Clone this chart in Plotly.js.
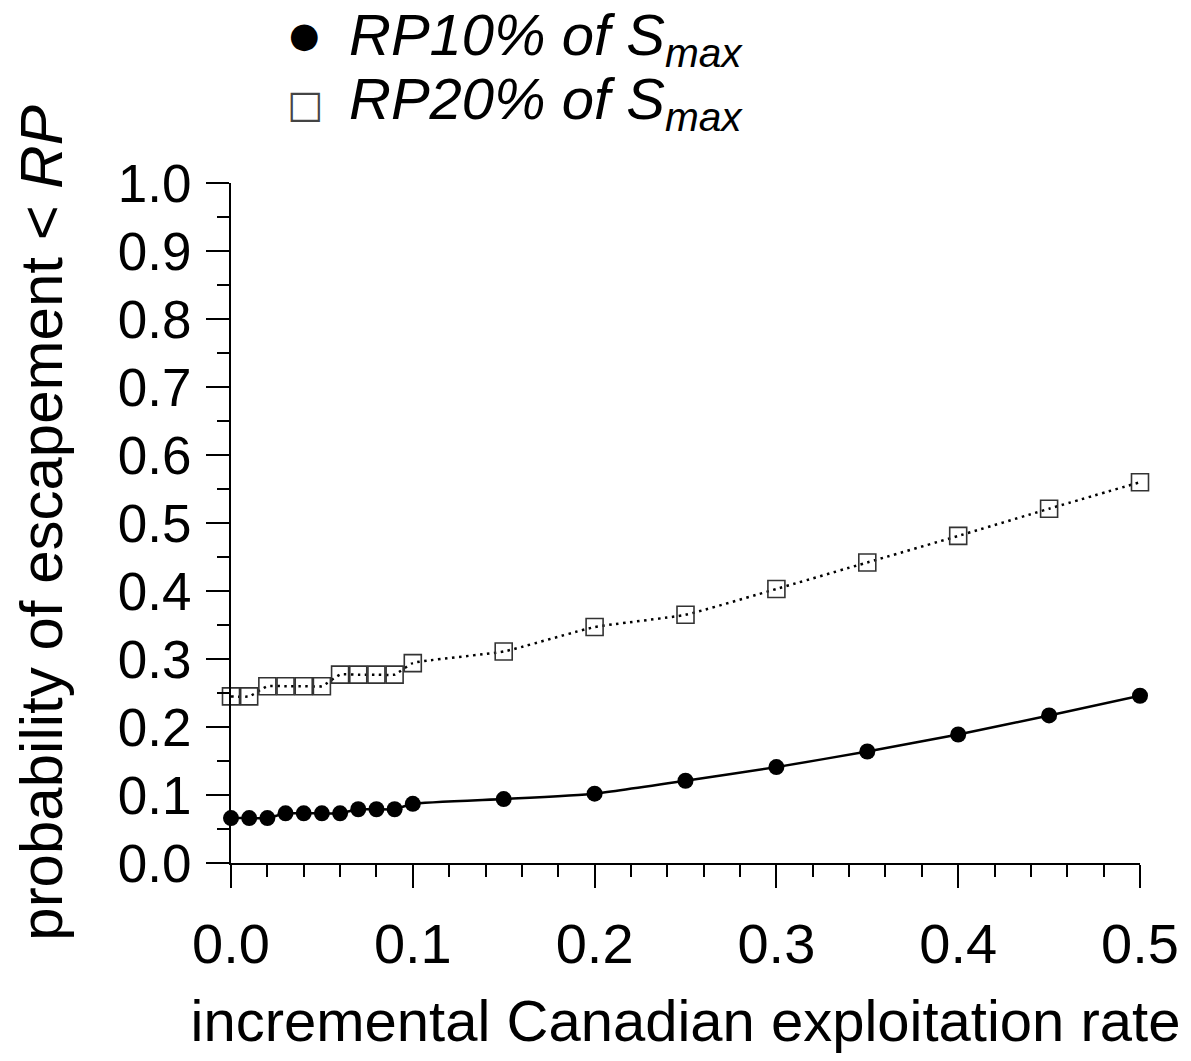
<!DOCTYPE html>
<html>
<head>
<meta charset="utf-8">
<script src="https://cdn.plot.ly/plotly-3.0.1.min.js"></script>
<style>
  html, body { margin: 0; padding: 0; background: #fff; }
  #chart { width: 1191px; height: 1061px; }
</style>
</head>
<body>
<div id="chart"></div>
<script>
// Data
const exploitationRate = [0.00, 0.01, 0.02, 0.03, 0.04, 0.05, 0.06, 0.07, 0.08, 0.09, 0.10,
                          0.15, 0.20, 0.25, 0.30, 0.35, 0.40, 0.45, 0.50];
const probRP10 = [0.066, 0.066, 0.066, 0.073, 0.073, 0.073, 0.073, 0.079, 0.079, 0.079, 0.087,
                  0.094, 0.102, 0.121, 0.141, 0.164, 0.189, 0.217, 0.246];
const probRP20 = [0.245, 0.245, 0.260, 0.260, 0.260, 0.260, 0.277, 0.277, 0.277, 0.277, 0.294,
                  0.311, 0.347, 0.365, 0.403, 0.442, 0.481, 0.521, 0.560];
const seriesNames = ['RP10% of S<sub>max</sub>', 'RP20% of S<sub>max</sub>'];
const legendSymbols = ['●', '□'];
const xTickVals = [0, 0.1, 0.2, 0.3, 0.4, 0.5];
const xTickText = ['0.0', '0.1', '0.2', '0.3', '0.4', '0.5'];
const yTickVals = [0, 0.1, 0.2, 0.3, 0.4, 0.5, 0.6, 0.7, 0.8, 0.9, 1.0];
const yTickText = ['0.0', '0.1', '0.2', '0.3', '0.4', '0.5', '0.6', '0.7', '0.8', '0.9', '1.0'];

const FONT = 'Liberation Sans, Arial, sans-serif';

const traces = [
  {
    x: exploitationRate, y: probRP10, type: 'scatter', mode: 'lines+markers', name: 'RP10% of Smax',
    line: { color: '#000', width: 2.5, shape: 'spline', smoothing: 0.4 },
    marker: { symbol: 'circle', size: 16, color: '#000' },
    showlegend: false, cliponaxis: false
  },
  {
    x: exploitationRate, y: probRP20, type: 'scatter', mode: 'lines+markers', name: 'RP20% of Smax',
    line: { color: '#000', width: 2.5, dash: '2.5px,4.5px', shape: 'spline', smoothing: 0.4 },
    marker: { symbol: 'square-open', size: 17, color: '#333', line: { width: 1.6, color: '#333' } },
    showlegend: false, cliponaxis: false
  }
];

// legend drawn as annotations (symbol + italic label), rows in paper coordinates
const legendRowsY = [1.212, 1.117];
const annotations = [];
seriesNames.forEach((name, i) => {
  annotations.push({
    xref: 'paper', yref: 'paper', x: 0.0814, y: legendRowsY[i] + (i === 0 ? 0.006 : -0.001),
    xanchor: 'center', yanchor: 'middle', showarrow: false,
    text: legendSymbols[i],
    font: { family: 'DejaVu Sans', size: i === 0 ? 35 : 38, color: i === 0 ? '#000' : '#444' }
  });
  annotations.push({
    xref: 'paper', yref: 'paper', x: 0.128, y: legendRowsY[i],
    xanchor: 'left', yanchor: 'middle', showarrow: false,
    text: '<i>' + name + '</i>',
    font: { family: FONT, size: 58, color: '#000' }
  });
});

const layout = {
  width: 1191, height: 1061,
  margin: { l: 231, r: 51, t: 183, b: 198, pad: 0 },
  paper_bgcolor: '#fff', plot_bgcolor: '#fff',
  font: { family: FONT, color: '#000' },
  showlegend: false,
  annotations: annotations,
  xaxis: {
    range: [0, 0.5], showgrid: false, zeroline: false,
    showline: true, linecolor: '#000', linewidth: 2,
    ticks: 'outside', ticklen: 23, tickwidth: 2, tickcolor: '#000',
    tickvals: xTickVals, ticktext: xTickText,
    tickfont: { family: FONT, size: 56, color: '#000' },
    ticklabelstandoff: 8,
    minor: { dtick: 0.02, ticks: 'outside', ticklen: 12, tickwidth: 2, tickcolor: '#000', showgrid: false },
    title: { text: 'incremental Canadian exploitation rate', font: { family: FONT, size: 58, color: '#000' }, standoff: 26 }
  },
  yaxis: {
    range: [0, 1], showgrid: false, zeroline: false,
    showline: true, linecolor: '#000', linewidth: 2,
    ticks: 'outside', ticklen: 23, tickwidth: 2, tickcolor: '#000',
    tickvals: yTickVals, ticktext: yTickText,
    tickfont: { family: FONT, size: 53, color: '#000' },
    ticklabelstandoff: 4,
    minor: { dtick: 0.05, ticks: 'outside', ticklen: 12, tickwidth: 2, tickcolor: '#000', showgrid: false },
    title: { text: 'probability of escapement &lt; <i>RP</i>', font: { family: FONT, size: 60, color: '#000' }, standoff: 36 }
  }
};

Plotly.newPlot('chart', traces, layout, { displayModeBar: false, staticPlot: true });
</script>
</body>
</html>
